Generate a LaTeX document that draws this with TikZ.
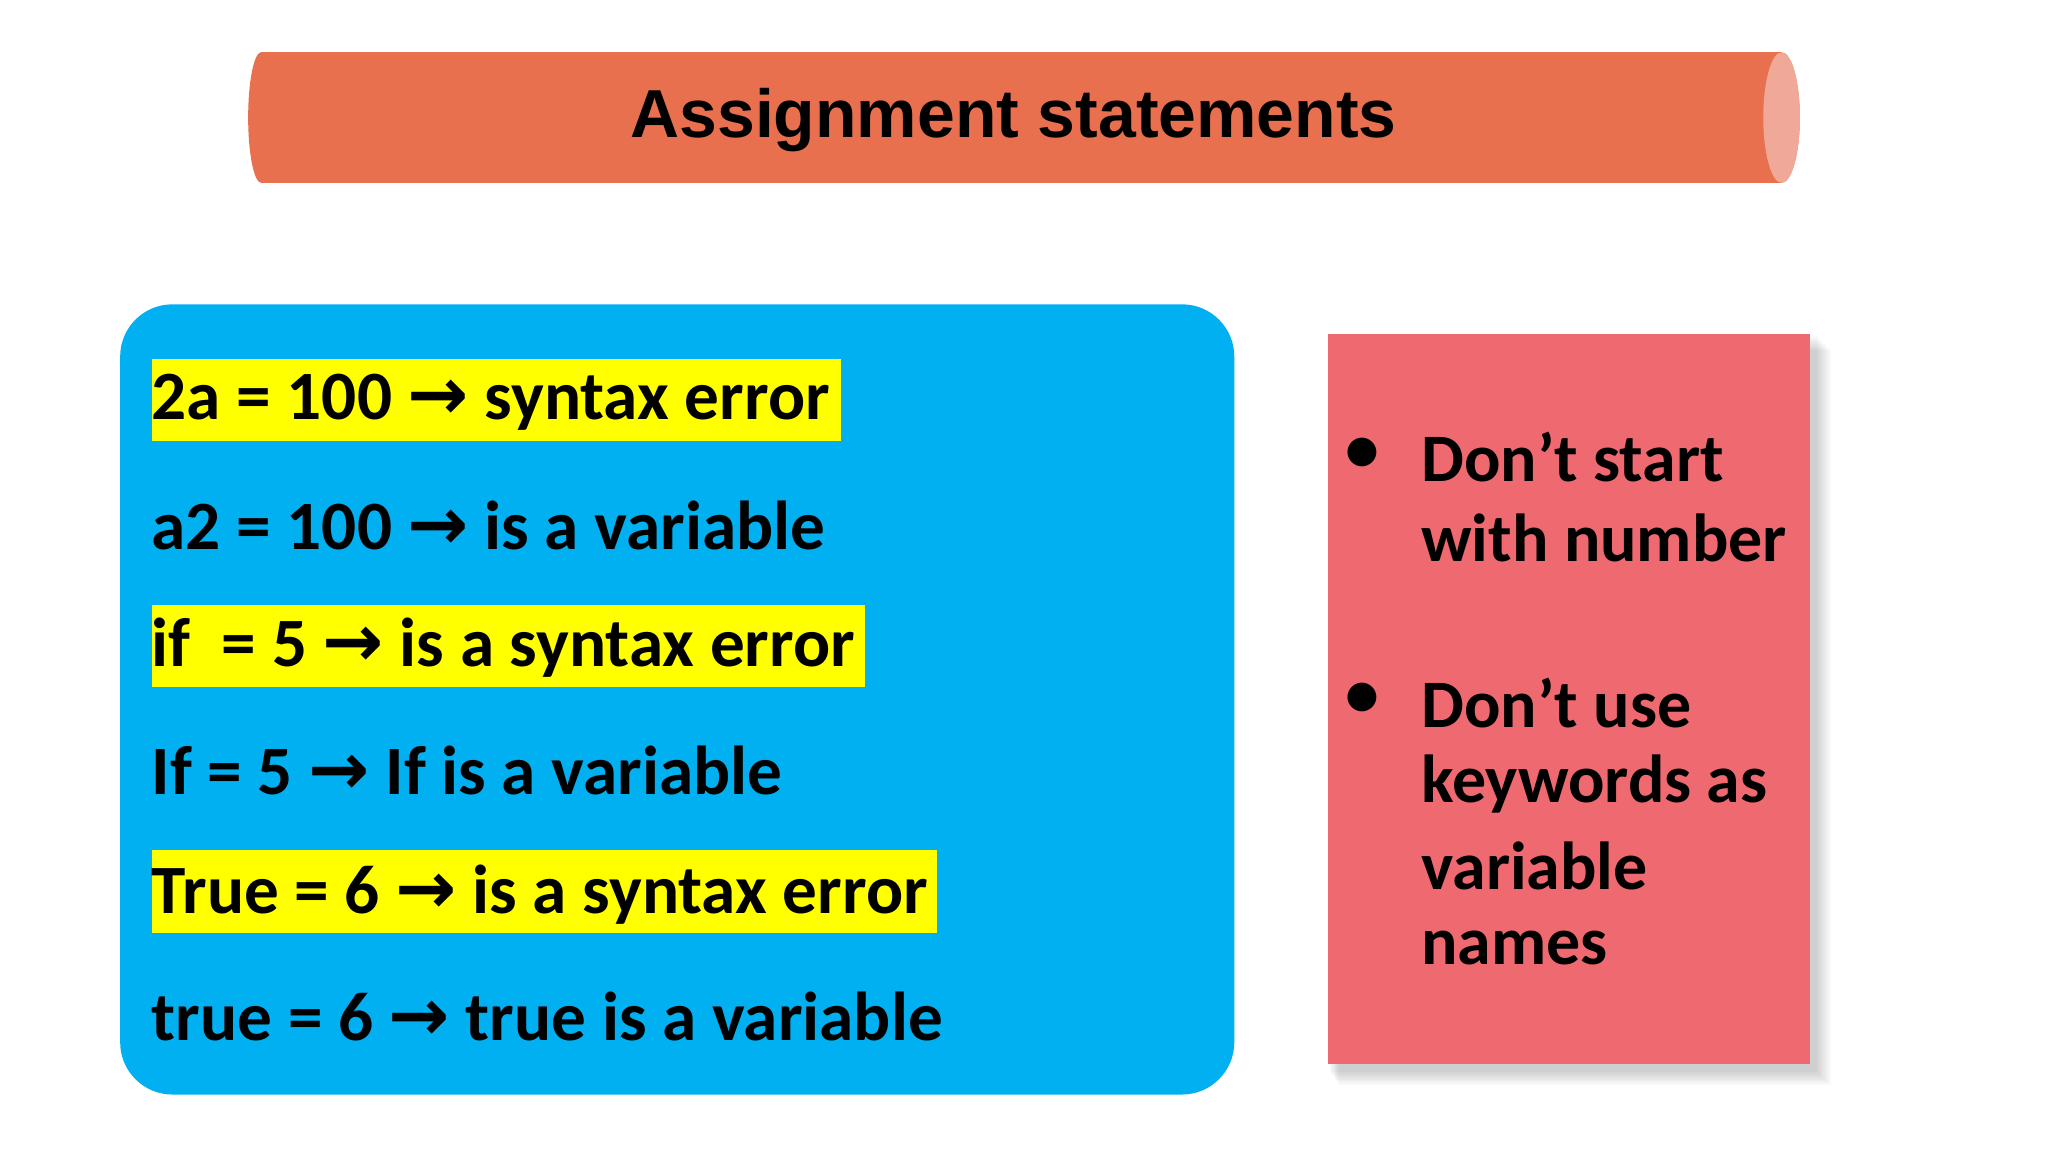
\documentclass[tikz,border=0pt]{standalone}
\usepackage{fontspec}
\setmainfont{Carlito}
\newfontfamily\hdfont{Liberation Sans}
\newfontfamily\arrfont{DejaVu Sans}
\definecolor{cyl}{HTML}{E8704F}
\definecolor{cylend}{HTML}{F0A898}
\definecolor{bluebg}{HTML}{00B0F0}
\definecolor{redbg}{HTML}{EE6A70}
\definecolor{hl}{HTML}{FFFF00}
\newcommand{\arr}{{\arrfont\bfseries\fontsize{56}{50}\selectfont →}}
\tikzset{line/.style={anchor=west,inner sep=0pt,font=\fontsize{53}{60}\selectfont\bfseries},
 bul/.style={anchor=west,inner sep=0pt,font=\fontsize{52}{60}\selectfont\bfseries}}
\begin{document}
\begin{tikzpicture}[x=1pt,y=-1pt]
\useasboundingbox[fill=white] (0,0) rectangle (1568,882);
% cylinder
\fill[cyl] (200,90) ellipse[x radius=10,y radius=50];
\fill[cyl] (200,40) rectangle (1364,140);
\fill[cyl] (1364,90) ellipse[x radius=14,y radius=50];
\fill[cylend] (1364,90) ellipse[x radius=14,y radius=50];
\node (title) at (776,92) {\hdfont\bfseries\fontsize{52}{56}\selectfont Assignment statements};
% blue box
\fill[bluebg,rounded corners=40pt] (92,233) rectangle (945,838);
\fill[hl] (116,275) rectangle (644,338);
\fill[hl] (116,463) rectangle (662,526);
\fill[hl] (116,651) rectangle (717,714);
\node[line] (l1) at (116,308) {2a = 100 \arr{} syntax error};
\node[line] (l2) at (116,402) {a2 = 100 \arr{} is a variable};
\node[line] (l3) at (116,496) {if\ \ = 5 \arr{} is a syntax error};
\node[line] (l4) at (116,590) {If = 5 \arr{} If is a variable};
\node[line] (l5) at (116,685) {True = 6 \arr{} is a syntax error};
\node[line] (l6) at (116,778) {true = 6 \arr{} true is a variable};
% red box with soft shadow
\foreach \i in {1,...,8}{
  \fill[black,opacity=0.025] (1017+\i,256+\i*1.5) rectangle (1390+\i*1.5,819+\i*1.5);
}
\fill[redbg] (1017,256) rectangle (1386,815);
\node[bul] (b1) at (1030,348) {•};
\node[bul] (t1) at (1088,350) {Don’t start};
\node[bul] (t2) at (1088,412) {with number};
\node[bul] (b2) at (1030,536) {•};
\node[bul] (t3) at (1088,538) {Don’t use};
\node[bul] (t4) at (1088,600) {keywords as};
\node[bul] (t5) at (1088,663) {variable};
\node[bul] (t6) at (1088,726) {names};
\end{tikzpicture}
\end{document}
